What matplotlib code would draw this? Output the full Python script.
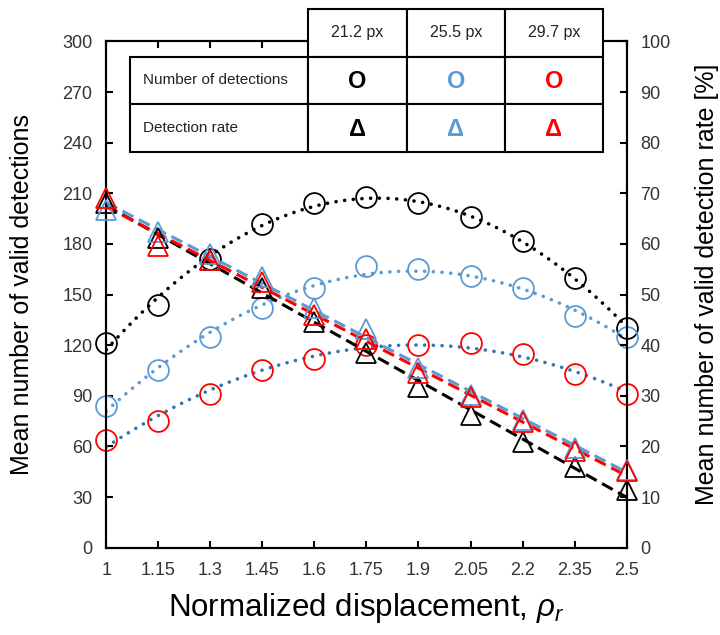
import numpy as np
import matplotlib
matplotlib.use("Agg")
import matplotlib.pyplot as plt
from matplotlib.patches import Rectangle

plt.rcParams['font.family'] = ['Liberation Sans', 'DejaVu Sans']
plt.rcParams['mathtext.fontset'] = 'custom'
plt.rcParams['mathtext.it'] = 'Liberation Sans:italic'
plt.rcParams['mathtext.rm'] = 'Liberation Sans'

# data
rho = [1, 1.15, 1.3, 1.45, 1.6, 1.75, 1.9, 2.05, 2.2, 2.35, 2.5]
sizes = ['21.2 px', '25.5 px', '29.7 px']

det_212 = [121, 144, 171, 192, 204, 208, 204, 196, 182, 160, 130]
det_255 = [84, 105, 125, 142, 154, 167, 165, 161, 154, 137, 125]
det_297 = [64, 75, 91, 105, 112, 120, 120, 121, 115, 103, 91]

rate_212 = [68, 61.1, 56.8, 51.2, 44.6, 38.4, 31.7, 26.2, 20.9, 16.0, 11.4]
rate_255 = [66.7, 62.4, 58.1, 53.5, 47.3, 43.1, 35.4, 30.1, 25.2, 19.6, 15.3]
rate_297 = [69, 59.6, 56.8, 52.5, 45.9, 41.3, 34.4, 29.7, 24.9, 19.1, 15.1]

colors = ['black', '#5B9BD5', '#FF0000']
trend_colors = ['black', '#5B9BD5', '#2E75B6']

x = np.array(rho)
xs = np.linspace(rho[0], rho[-1], 200)

fig = plt.figure(figsize=(7.2, 6.35), dpi=100)
ax = fig.add_axes([0.1476, 0.1376, 0.7227, 0.7972])
ax2 = ax.twinx()

for y, c, tc in zip([det_212, det_255, det_297], colors, trend_colors):
    p = np.polyfit(x, y, 2)
    ax.plot(xs, np.polyval(p, xs), color=tc, lw=2.6, ls=(0, (0.01, 2.4)),
            dash_capstyle='round', zorder=2)
    ax.plot(x, y, 'o', ms=15, mfc='none', mec=c, mew=1.3, clip_on=False, zorder=3)

for y, c in zip([rate_212, rate_255, rate_297], colors):
    p = np.polyfit(x, y, 1)
    ax2.plot(xs, np.polyval(p, xs), color=c, lw=2.2, ls=(0, (4, 2)), zorder=2)
    ax2.plot(x, y, '^', ms=14.5, mfc='none', mec=c, mew=1.3, clip_on=False, zorder=3)

ax.set_xlim(1, 2.5)
ax.set_ylim(0, 300)
ax2.set_ylim(0, 100)
ax.set_xticks(rho)
ax.set_xticklabels([f'{v:g}' for v in rho])
ax.set_yticks(np.arange(0, 301, 30))
ax2.set_yticks(np.arange(0, 101, 10))

for a in (ax, ax2):
    for s in a.spines.values():
        s.set_linewidth(1.5)
ax.tick_params(direction='in', length=5, width=1.5, labelsize=13,
               labelcolor='#333333', top=True, pad=10)
ax2.tick_params(direction='in', length=5, width=1.5, labelsize=13,
                labelcolor='#333333', pad=10)

ax.set_xlabel(r'Normalized displacement, $\rho_r$', fontsize=22.5)
ax.xaxis.set_label_coords(0.5, -0.085)
ax.set_ylabel('Mean number of valid detections', fontsize=18)
ax.yaxis.set_label_coords(-0.138, 0.5)
ax2.set_ylabel('Mean number of valid detection rate [%]', fontsize=18)
ax2.yaxis.set_label_coords(1.131, 0.52)

# table legend drawn in pixel space
ov = fig.add_axes([0, 0, 1, 1])
ov.set_xlim(0, 720)
ov.set_ylim(635, 0)
ov.axis('off')
col_x = [308, 407, 505, 603]
rows_y = [9, 57, 104, 152]
lw = 1.5
for i in range(3):
    ov.add_patch(Rectangle((col_x[i], rows_y[0]), col_x[i + 1] - col_x[i],
                           rows_y[1] - rows_y[0], fc='white', ec='black', lw=lw))
    ov.text((col_x[i] + col_x[i + 1]) / 2, (rows_y[0] + rows_y[1]) / 2, sizes[i],
            ha='center', va='center', fontsize=11.5, color='#222222')
for r, label in enumerate(['Number of detections', 'Detection rate']):
    y0 = rows_y[r + 1]
    h = rows_y[r + 2] - y0
    ov.add_patch(Rectangle((130, y0), col_x[0] - 130, h, fc='white', ec='black', lw=lw))
    ov.text(143, y0 + h / 2, label, ha='left', va='center', fontsize=11,
            color='#222222')
    for i in range(3):
        ov.add_patch(Rectangle((col_x[i], y0), col_x[i + 1] - col_x[i], h,
                               fc='white', ec='black', lw=lw))
        ov.text((col_x[i] + col_x[i + 1]) / 2, y0 + h / 2 + 1,
                'O' if r == 0 else 'Δ', ha='center', va='center',
                fontsize=17, fontweight='bold', color=colors[i])

fig.savefig('out.png', dpi=100)
